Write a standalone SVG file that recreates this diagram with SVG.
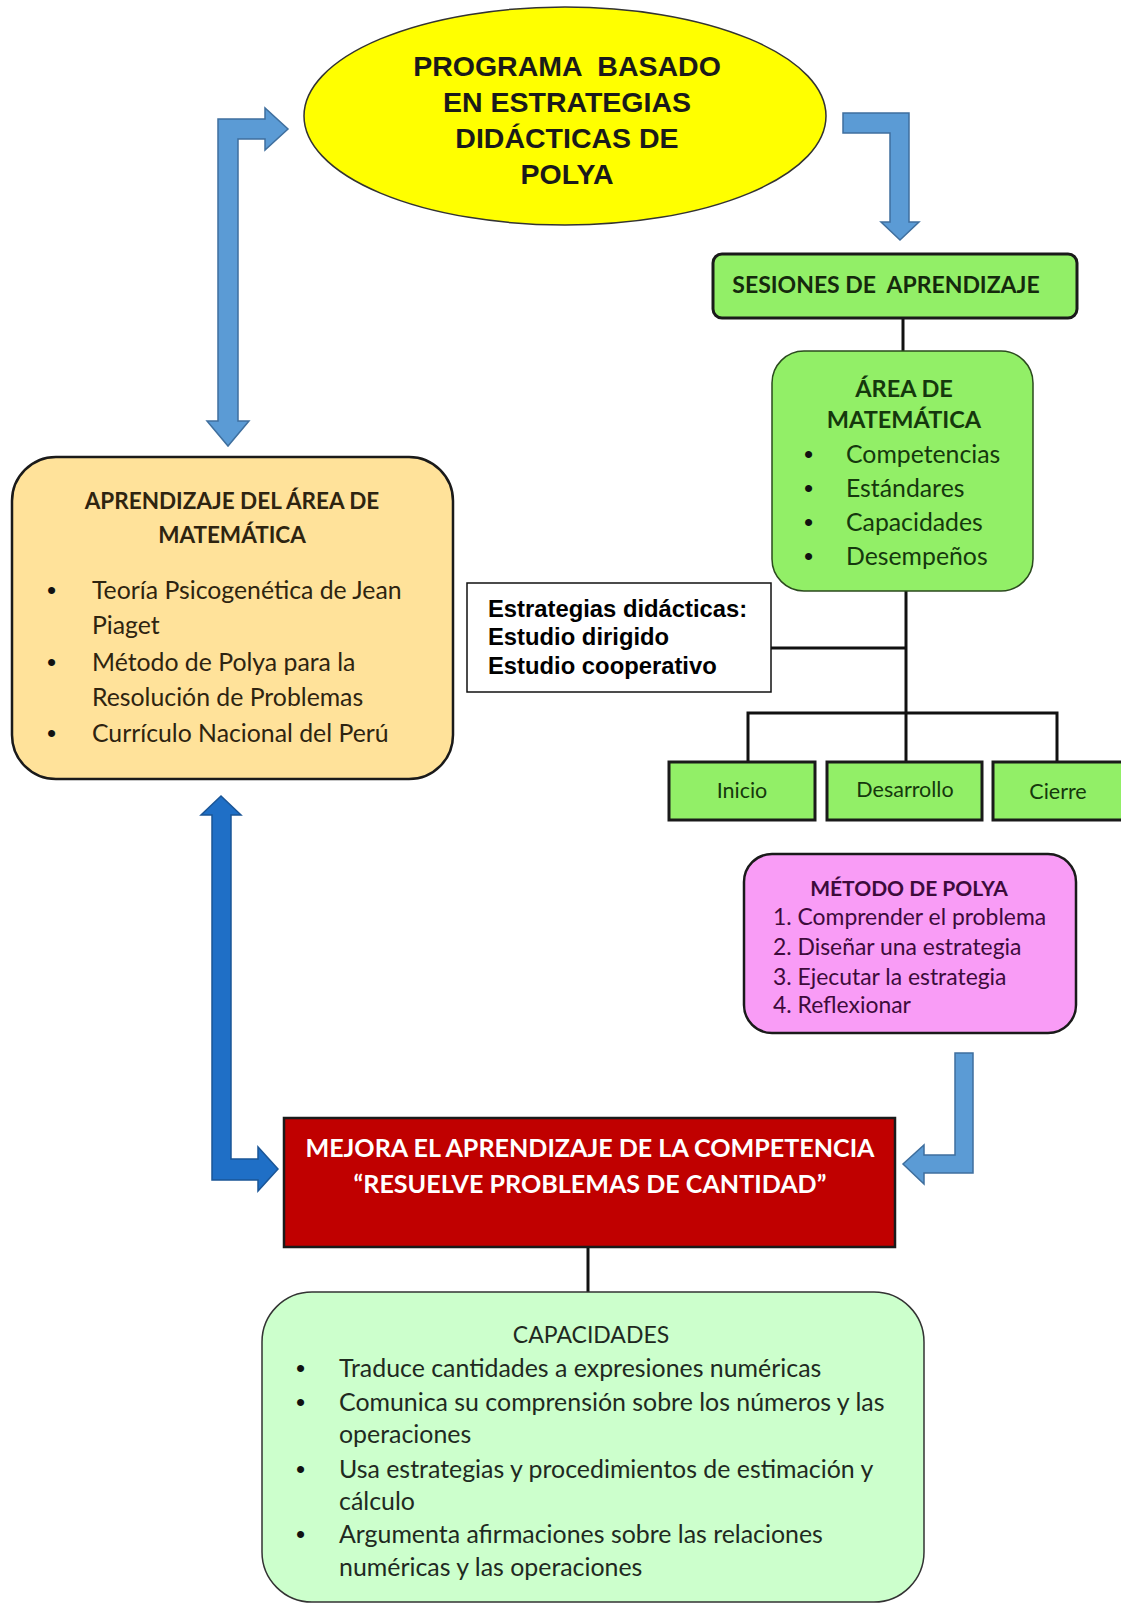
<svg xmlns="http://www.w3.org/2000/svg" width="1121" height="1604" viewBox="0 0 1121 1604">
<style>
.arrowL{fill:#5B9BD5;stroke:#3f6f9e;stroke-width:1.5;stroke-linejoin:miter}
.arrowD{fill:#1F6FC6;stroke:#1a5596;stroke-width:1.5}
.conn{stroke:#111;stroke-width:3;fill:none}
.green{fill:#92EF67;stroke:#1a1a1a;stroke-width:3}
.cal{font-family:Lato,"Open Sans",sans-serif}
.b{font-weight:bold}
.arial{font-family:"Liberation Sans",Arial,sans-serif;font-weight:bold}
.bul{font-family:"Liberation Sans",Arial,sans-serif}
.pre{white-space:pre}
</style>
<rect width="1121" height="1604" fill="#ffffff"/>

<g id="connectors">
<path class="arrowL" d="M218,119 L265,119 L265,108 L288,129 L265,150 L265,139 L238,139 L238,421 L249,421 L228,446 L207,421 L218,421 Z"/>
<path class="arrowL" d="M843,113 L909,113 L909,222 L919,222 L900,240 L881,222 L890,222 L890,133 L843,133 Z"/>
<path class="arrowD" d="M221,796 L241,815 L231,815 L231,1159 L258,1159 L258,1147 L278,1169 L258,1191 L258,1180 L212,1180 L212,815 L201,815 Z"/>
<path class="arrowL" d="M955,1053 L973,1053 L973,1173 L924,1173 L924,1184 L903,1164 L924,1145 L924,1155 L955,1155 Z"/>
<line class="conn" x1="903" y1="318" x2="903" y2="352"/>
<line class="conn" x1="906" y1="591" x2="906" y2="762"/>
<line class="conn" x1="771" y1="648" x2="907" y2="648"/>
<polyline class="conn" points="748,762 748,713 1057,713 1057,762"/>
<line class="conn" x1="588" y1="1247" x2="588" y2="1292"/>
</g>

<g id="programa">
<ellipse cx="565" cy="116" rx="261" ry="109" fill="#FFFF00" stroke="#333" stroke-width="1.5"/>
<g class="arial" font-size="28.5" fill="#1a1a1a" text-anchor="middle">
<text class="pre" x="567" y="76" xml:space="preserve">PROGRAMA  BASADO</text>
<text x="567" y="112">EN ESTRATEGIAS</text>
<text x="567" y="148">DIDÁCTICAS DE</text>
<text x="567" y="184">POLYA</text>
</g>
</g>

<g id="sesiones">
<rect class="green" x="713" y="254" width="364" height="64" rx="9"/>
<text class="cal b pre" x="886" y="293" font-size="23" fill="#15290d" text-anchor="middle" xml:space="preserve">SESIONES DE  APRENDIZAJE</text>
</g>

<g id="area">
<rect x="772" y="351" width="261" height="240" rx="32" fill="#92EF67" stroke="#2b4a1e" stroke-width="1.5"/>
<g class="cal" fill="#15380d">
<text class="b" x="904" y="397" font-size="23.5" text-anchor="middle">ÁREA DE</text>
<text class="b" x="904" y="428" font-size="23.5" text-anchor="middle">MATEMÁTICA</text>
<text x="846" y="463" font-size="24.8">Competencias</text>
<text x="846" y="497" font-size="24.8">Estándares</text>
<text x="846" y="531" font-size="24.8">Capacidades</text>
<text x="846" y="565" font-size="24.8">Desempeños</text>
</g>
<g class="bul" font-size="26" fill="#111">
<text x="804" y="463">•</text><text x="804" y="497">•</text><text x="804" y="531">•</text><text x="804" y="565">•</text>
</g>
</g>

<g id="aprendizaje">
<rect x="12" y="457" width="441" height="322" rx="44" fill="#FFE29A" stroke="#1a1a1a" stroke-width="2.5"/>
<g class="cal" fill="#2e2410">
<text class="b" x="232" y="509" font-size="22.5" text-anchor="middle">APRENDIZAJE DEL ÁREA DE</text>
<text class="b" x="232" y="543" font-size="22.5" text-anchor="middle">MATEMÁTICA</text>
<text x="92" y="599" font-size="24.8">Teoría Psicogenética de Jean</text>
<text x="92" y="634" font-size="24.8">Piaget</text>
<text x="92" y="671" font-size="24.8">Método de Polya para la</text>
<text x="92" y="706" font-size="24.8">Resolución de Problemas</text>
<text x="92" y="742" font-size="24.8">Currículo Nacional del Perú</text>
</g>
<g class="bul" font-size="26" fill="#111">
<text x="47" y="599">•</text><text x="47" y="671">•</text><text x="47" y="742">•</text>
</g>
</g>

<g id="estrategias">
<rect x="467" y="583" width="304" height="109" fill="#ffffff" stroke="#111" stroke-width="1.5"/>
<g class="arial" font-size="23.8" fill="#000">
<text x="488" y="617">Estrategias didácticas:</text>
<text x="488" y="645">Estudio dirigido</text>
<text x="488" y="674">Estudio cooperativo</text>
</g>
</g>

<g id="inicio">
<rect class="green" x="669" y="762" width="146" height="58"/>
<text class="cal" x="742" y="798" font-size="21.5" fill="#15380d" text-anchor="middle">Inicio</text>
</g>
<g id="desarrollo">
<rect class="green" x="827" y="762" width="155" height="58"/>
<text class="cal" x="905" y="797" font-size="21.5" fill="#15380d" text-anchor="middle">Desarrollo</text>
</g>
<g id="cierre">
<rect class="green" x="993" y="762" width="132" height="58"/>
<text class="cal" x="1058" y="799" font-size="21.5" fill="#15380d" text-anchor="middle">Cierre</text>
</g>

<g id="polya">
<rect x="744" y="854" width="332" height="179" rx="28" fill="#F99CF6" stroke="#1a1a1a" stroke-width="2.5"/>
<g class="cal" fill="#3d0b3b" font-size="22.9">
<text class="b" x="909" y="896" text-anchor="middle" font-size="21">MÉTODO DE POLYA</text>
<text x="773" y="925">1. Comprender el problema</text>
<text x="773" y="955">2. Diseñar una estrategia</text>
<text x="773" y="985">3. Ejecutar la estrategia</text>
<text x="773" y="1013">4. Reflexionar</text>
</g>
</g>

<g id="mejora">
<rect x="284" y="1118" width="611" height="129" fill="#C00000" stroke="#1a1a1a" stroke-width="2.5"/>
<g class="cal b" fill="#ffffff" font-size="25.1" text-anchor="middle">
<text x="590" y="1157">MEJORA EL APRENDIZAJE DE LA COMPETENCIA</text>
<text x="590" y="1193">“RESUELVE PROBLEMAS DE CANTIDAD”</text>
</g>
</g>

<g id="capacidades">
<rect x="262" y="1292" width="662" height="310" rx="50" fill="#CCFFCC" stroke="#333" stroke-width="1.5"/>
<g class="cal" fill="#1f2a1f" font-size="24.9">
<text x="591" y="1343" text-anchor="middle" font-size="23">CAPACIDADES</text>
<text x="339" y="1377">Traduce cantidades a expresiones numéricas</text>
<text x="339" y="1411">Comunica su comprensión sobre los números y las</text>
<text x="339" y="1443">operaciones</text>
<text x="339" y="1478">Usa estrategias y procedimientos de estimación y</text>
<text x="339" y="1510">cálculo</text>
<text x="339" y="1543">Argumenta afirmaciones sobre las relaciones</text>
<text x="339" y="1576">numéricas y las operaciones</text>
</g>
<g class="bul" font-size="26" fill="#111">
<text x="296" y="1377">•</text><text x="296" y="1411">•</text><text x="296" y="1478">•</text><text x="296" y="1543">•</text>
</g>
</g>
</svg>
